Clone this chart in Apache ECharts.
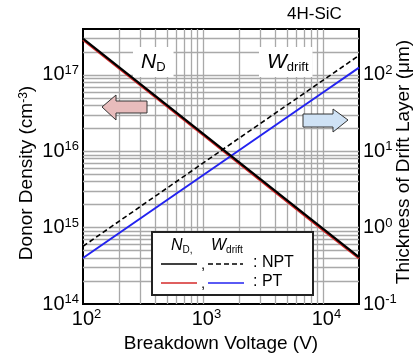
<!DOCTYPE html>
<html><head><meta charset="utf-8">
<script src="https://cdn.jsdelivr.net/npm/echarts@6/dist/echarts.min.js"></script>
<style>html,body{margin:0;padding:0;background:#fff}#c{width:416px;height:358px}</style>
</head><body><div id="c"></div>
<script>
// ---- data ----
const voltage = [100, 1000, 10000, 20000];          // Breakdown voltage (V)
const ndNPT   = [3.0e17, 1.71e16, 9.7e14, 4.1e14];   // Donor density, NPT (cm^-3)
const ndPT    = [2.87e17, 1.64e16, 9.3e14, 3.95e14]; // Donor density, PT (cm^-3)
const wNPT    = [0.57, 7.0, 85, 180];                // Drift layer thickness, NPT (um)
const wPT     = [0.40, 4.85, 59, 125];               // Drift layer thickness, PT (um)
const xRange = [100, 20000];
const yLeftRange = [1e14, 4e17];
const yRightRange = [0.1, 400];

const FONT = '"Liberation Sans", Arial, sans-serif';

function pair(xs, ys){ return xs.map((x,i)=>[x, ys[i]]); }

// log-grid line values (1..9 x decade) inside the ranges
function gridVals(lo, hi){
  const out = [];
  for (let e = Math.floor(Math.log10(lo)); e <= Math.ceil(Math.log10(hi)); e++){
    for (let m = 1; m <= 9; m++){
      const v = m * Math.pow(10, e);
      if (v > lo * 1.0001 && v < hi * 0.9999) out.push(v);
    }
  }
  return out;
}
const gridLines = gridVals(xRange[0], xRange[1]).map(v => ({xAxis: v}))
  .concat(gridVals(yLeftRange[0], yLeftRange[1]).map(v => ({yAxis: v})));

function decadeFmt(pad){
  return function(v){
    const l = Math.log10(v), r = Math.round(l);
    if (Math.abs(l - r) > 1e-6) return '';
    const s = String(r);
    return (pad ? '{p|}' : '') + '{b|10}{s|' + s + '}';
  };
}
const labelRich = {
  b: {fontSize: 20, lineHeight: 22, fontFamily: FONT, color: '#000'},
  s: {fontSize: 13, lineHeight: 13, verticalAlign: 'top', fontFamily: FONT, color: '#000'},
  p: {width: 7}
};

const chart = echarts.init(document.getElementById('c'), null, {renderer: 'canvas'});
chart.setOption({
  animation: false,
  backgroundColor: '#fff',
  grid: {left: 83, right: 57, top: 29, bottom: 54, show: true, borderColor: '#000', borderWidth: 2,
         backgroundColor: 'transparent', containLabel: false, outerBoundsMode: 'none'},
  xAxis: [{
    type: 'log', logBase: 10, min: xRange[0], max: xRange[1],
    axisLine: {show: false}, axisTick: {show: false}, splitLine: {show: false}, minorSplitLine: {show: false},
    axisLabel: {formatter: decadeFmt(true), rich: labelRich, margin: 4, showMaxLabel: false},
    name: 'Breakdown Voltage (V)', nameLocation: 'middle', nameGap: 29,
    nameTextStyle: {fontSize: 19, color: '#000', fontFamily: FONT}
  }],
  yAxis: [{
    type: 'log', logBase: 10, min: yLeftRange[0], max: yLeftRange[1], position: 'left',
    axisLine: {show: false}, axisTick: {show: false}, splitLine: {show: false},
    axisLabel: {formatter: decadeFmt(false), rich: labelRich, margin: 4, showMaxLabel: false}
  }, {
    type: 'log', logBase: 10, min: yRightRange[0], max: yRightRange[1], position: 'right',
    axisLine: {show: false}, axisTick: {show: false}, splitLine: {show: false},
    axisLabel: {formatter: decadeFmt(false), rich: labelRich, margin: 4, showMaxLabel: false}
  }],
  series: [
    {type: 'line', name: 'grid', data: [[xRange[0], yLeftRange[0]]], symbol: 'none', z: 1,
     lineStyle: {opacity: 0}, silent: true,
     markLine: {silent: true, z: 1, symbol: ['none', 'none'], label: {show: false},
       lineStyle: {color: '#a9a9a9', width: 1.3, type: 'solid'}, animation: false, data: gridLines}},
    {type: 'line', name: 'ND PT', data: pair(voltage, ndPT), yAxisIndex: 0, symbol: 'none', z: 3,
     lineStyle: {color: '#d42a2a', width: 2.2}},
    {type: 'line', name: 'ND NPT', data: pair(voltage, ndNPT), yAxisIndex: 0, symbol: 'none', z: 4,
     lineStyle: {color: '#000', width: 2.2}},
    {type: 'line', name: 'W NPT', data: pair(voltage, wNPT), yAxisIndex: 1, symbol: 'none', z: 3,
     lineStyle: {color: '#000', width: 1.6, type: [5, 3]}},
    {type: 'line', name: 'W PT', data: pair(voltage, wPT), yAxisIndex: 1, symbol: 'none', z: 3,
     lineStyle: {color: '#2323f0', width: 2}}
  ],
  graphic: [
    {type: 'text', left: 287, top: 6, z: 100, style: {text: '4H-SiC', fontSize: 17, fontFamily: FONT, fill: '#000'}},
    // y axis titles
    {type: 'text', x: 27, y: 173, rotation: Math.PI / 2, z: 100, style: {
      text: 'Donor Density (cm{s|-3})', fontSize: 19, fontFamily: FONT, fill: '#000', align: 'center', verticalAlign: 'middle',
      rich: {s: {fontSize: 12, verticalAlign: 'top', lineHeight: 12, fontFamily: FONT, fill: '#000'}}}},
    {type: 'text', x: 404, y: 162, rotation: Math.PI / 2, z: 100, style: {
      text: 'Thickness of Drift Layer (\u03bcm)', fontSize: 19, fontFamily: FONT, fill: '#000', align: 'center', verticalAlign: 'middle'}},
    // N_D label
    {type: 'text', x: 133, y: 47, z: 100, style: {
      text: '{i|N}{d|D}', backgroundColor: '#fff', padding: [3, 8, 3, 8],
      rich: {i: {fontSize: 21, fontStyle: 'italic', fontFamily: FONT, fill: '#000', lineHeight: 24},
             d: {fontSize: 13, fontFamily: FONT, fill: '#000', verticalAlign: 'bottom', lineHeight: 14}}}},
    // W_drift label
    {type: 'text', x: 259, y: 47, z: 100, style: {
      text: '{i|W}{d|drift}', backgroundColor: '#fff', padding: [3, 4, 3, 8],
      rich: {i: {fontSize: 21, fontStyle: 'italic', fontFamily: FONT, fill: '#000', lineHeight: 24},
             d: {fontSize: 13, fontFamily: FONT, fill: '#000', verticalAlign: 'bottom', lineHeight: 14}}}},
    // arrows
    {type: 'polygon', z: 100, shape: {points: [[102,107],[116,95],[116,101],[147,101],[147,113],[116,113],[116,120]]},
     style: {fill: '#e8bcbc', stroke: '#333', lineWidth: 1}},
    {type: 'polygon', z: 100, shape: {points: [[348,120],[333,109],[333,114],[303,114],[303,127],[333,127],[333,132]]},
     style: {fill: '#cfe2f5', stroke: '#333', lineWidth: 1}},
    // legend box
    {type: 'rect', z: 100, shape: {x: 152, y: 232, width: 161, height: 63},
     style: {fill: '#fff', stroke: '#222', lineWidth: 2}},
    {type: 'text', x: 171, y: 237, z: 101, style: {
      text: '{i|N}{d|D,}',
      rich: {i: {fontSize: 16, fontStyle: 'italic', fontFamily: FONT, fill: '#000', lineHeight: 18},
             d: {fontSize: 10, fontFamily: FONT, fill: '#000', verticalAlign: 'bottom', lineHeight: 11}}}},
    {type: 'text', x: 211, y: 237, z: 101, style: {
      text: '{i|W}{d|drift}',
      rich: {i: {fontSize: 16, fontStyle: 'italic', fontFamily: FONT, fill: '#000', lineHeight: 18},
             d: {fontSize: 10, fontFamily: FONT, fill: '#000', verticalAlign: 'bottom', lineHeight: 11}}}},
    {type: 'line', z: 101, shape: {x1: 161, y1: 264, x2: 197, y2: 264}, style: {stroke: '#000', lineWidth: 1.5}},
    {type: 'text', x: 201, y: 257, z: 101, style: {text: ',', fontSize: 15, fontFamily: FONT, fill: '#000'}},
    {type: 'line', z: 101, shape: {x1: 208, y1: 264, x2: 243, y2: 264}, style: {stroke: '#000', lineWidth: 1.3, lineDash: [5, 3]}},
    {type: 'text', x: 253, y: 255, z: 101, style: {text: ': NPT', fontSize: 16, fontFamily: FONT, fill: '#000'}},
    {type: 'line', z: 101, shape: {x1: 161, y1: 283, x2: 197, y2: 283}, style: {stroke: '#d42a2a', lineWidth: 1.5}},
    {type: 'text', x: 201, y: 276, z: 101, style: {text: ',', fontSize: 15, fontFamily: FONT, fill: '#000'}},
    {type: 'line', z: 101, shape: {x1: 208, y1: 283, x2: 244, y2: 283}, style: {stroke: '#2323f0', lineWidth: 1.5}},
    {type: 'text', x: 253, y: 274, z: 101, style: {text: ': PT', fontSize: 16, fontFamily: FONT, fill: '#000'}}
  ]
});
</script></body></html>
